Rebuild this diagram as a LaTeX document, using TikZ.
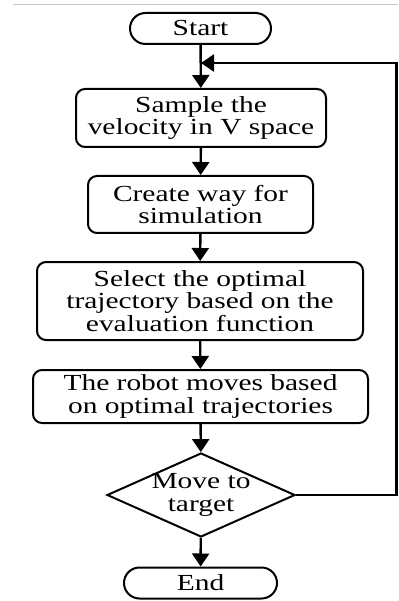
\documentclass[tikz,border=0pt]{standalone}
\usepackage{fontspec}
\setmainfont[FakeStretch=1.28]{Liberation Serif}
\usetikzlibrary{shapes.geometric,shapes.misc,arrows.meta}
\begin{document}
\begin{tikzpicture}[x=1pt,y=-1pt,
  every node/.style={font=\fontsize{23}{22.5}\selectfont, align=center, inner sep=0pt},
  line/.style={line width=2.4pt, -{Triangle[length=13pt,width=17pt]}},
  terminal/.style={draw, line width=2pt, rounded rectangle},
  proc/.style={draw, line width=2pt, rounded corners=9pt},
  decision/.style={draw, line width=2pt, diamond, aspect=2.24, inner sep=-4pt}]
\useasboundingbox (0,0) rectangle (398,601);
\draw[gray!45, line width=1pt] (13,5) -- (398,5);
% terminals
\node[terminal, minimum width=141pt, minimum height=31pt] (start) at (200.5,28.5) {Start};
\node[terminal, minimum width=153pt, minimum height=31pt] (end) at (200.5,583) {End};
% process boxes
\node[proc, minimum width=250pt, minimum height=58pt] (s1) at (201,118) {Sample the\\velocity in V space};
\node[proc, minimum width=225pt, minimum height=57pt] (s2) at (200.5,204.5) {Create way for\\simulation};
\node[proc, minimum width=326pt, minimum height=78pt] (s3) at (200,301) {Select the optimal\\trajectory based on the\\evaluation function};
\node[proc, minimum width=335pt, minimum height=53pt] (s4) at (200.5,396.5) {The robot moves based\\on optimal trajectories};
% decision
\node[decision, minimum width=188pt, minimum height=84pt] (dec) at (201,495) {Move to\\target};
% feedback corner points
\coordinate (join) at (201,63);
\coordinate (rt) at (396.5,63);
\coordinate (rb) at (396.5,495);
% connectors
\draw[line] (start) -- (s1);
\draw[line] (s1) -- (s2);
\draw[line] (s2) -- (s3);
\draw[line] (s3) -- (s4);
\draw[line] (s4) -- (dec);
\draw[line] (dec) -- (end);
\draw[line] (dec.east) -- (rb) -- (rt) -- (join);
\end{tikzpicture}
\end{document}
